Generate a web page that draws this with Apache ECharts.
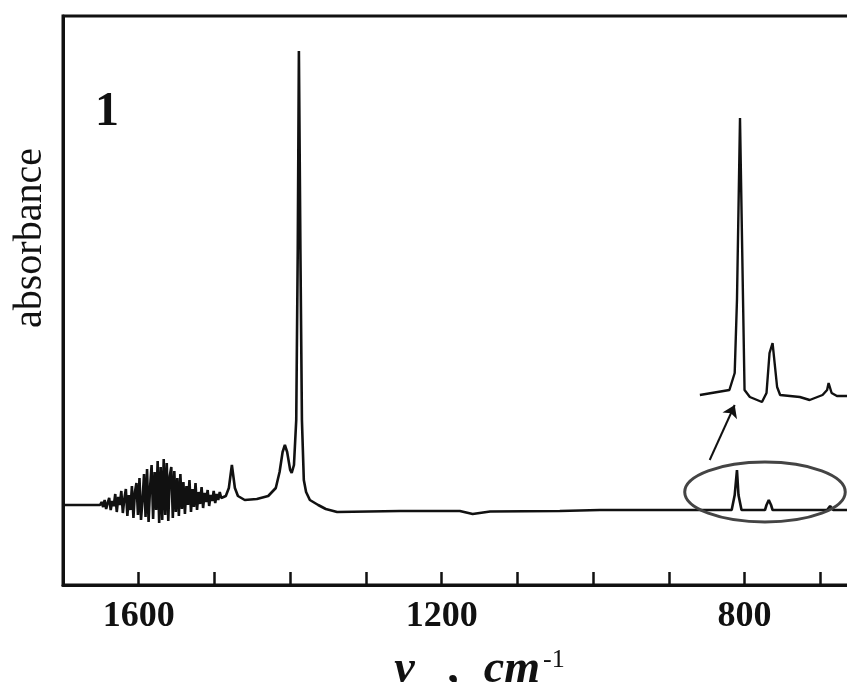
<!DOCTYPE html>
<html>
<head>
<meta charset="utf-8">
<script src="https://cdn.jsdelivr.net/npm/echarts@6/dist/echarts.min.js"></script>
<style>
  html, body { margin: 0; background: #fff; }
  #chart { width: 847px; height: 682px; }
</style>
</head>
<body>
<div id="chart"></div>
<script>
/* IR spectrum, panel 1 — wavenumber (cm-1, decreasing) vs absorbance (a.u.) */

// main trace: flat start, noisy water region, bands at ~1477 / 1407 / 1388 cm-1, small bands near 810 / 768 / 687
const mainNu = [1700, 1658,
  1651, 1649, 1647, 1645, 1643, 1641, 1639, 1637, 1635, 1633, 1631, 1629, 1627, 1625, 1623, 1621, 1619, 1617,
  1615, 1613, 1611, 1609, 1607, 1605, 1603, 1601, 1599, 1597, 1595, 1593, 1591, 1589, 1587, 1585, 1583, 1581,
  1579, 1577, 1575, 1573, 1571, 1569, 1567, 1565, 1563, 1561, 1559, 1557, 1555, 1553, 1551, 1549, 1547, 1545,
  1543, 1541, 1539, 1537, 1535, 1533, 1531, 1529, 1527, 1525, 1523, 1521, 1519, 1517, 1515, 1513, 1511, 1509,
  1507, 1505, 1503, 1501, 1499, 1497, 1495, 1493, 1491, 1489,
  1485, 1481, 1477, 1473, 1469, 1460,
  1444, 1429, 1419, 1414, 1410, 1407, 1404, 1400, 1398, 1395, 1392, 1390, 1388.5, 1386.5, 1384.5, 1382, 1379,
  1374, 1363, 1353, 1338, 1255, 1176, 1159, 1136, 1044, 991, 859, 817, 813, 810, 808, 804, 773, 771, 768, 765,
  763, 691, 687, 683, 650];
const mainAbs = [0.160, 0.160,
  0.160, 0.166, 0.156, 0.170, 0.152, 0.164, 0.174, 0.150, 0.168, 0.158, 0.182, 0.146, 0.176, 0.160, 0.188, 0.144,
  0.172, 0.192, 0.138, 0.180, 0.150, 0.198, 0.134, 0.186, 0.204, 0.140, 0.214, 0.130, 0.170, 0.222, 0.136, 0.232,
  0.126, 0.196, 0.240, 0.132, 0.226, 0.150, 0.248, 0.124, 0.236, 0.130, 0.252, 0.140, 0.244, 0.128, 0.218, 0.236,
  0.134, 0.228, 0.146, 0.214, 0.138, 0.222, 0.152, 0.206, 0.142, 0.198, 0.160, 0.210, 0.146, 0.192, 0.156, 0.204,
  0.150, 0.186, 0.162, 0.196, 0.154, 0.184, 0.166, 0.190, 0.158, 0.180, 0.168, 0.188, 0.164, 0.182, 0.170, 0.186,
  0.174, 0.178,
  0.178, 0.194, 0.240, 0.194, 0.178, 0.170,
  0.172, 0.178, 0.194, 0.226, 0.266, 0.280, 0.266, 0.230, 0.224, 0.240, 0.330, 0.670, 1.068, 0.670, 0.330, 0.210,
  0.186, 0.170, 0.160, 0.152, 0.146, 0.148, 0.148, 0.142, 0.147, 0.148, 0.150, 0.150, 0.150, 0.180, 0.230, 0.180,
  0.150, 0.150, 0.160, 0.170, 0.160, 0.150, 0.150, 0.158, 0.150, 0.150];

// magnified inset of the 860–650 region (offset upward)
const insetNu = [859, 820, 813, 810, 806, 802, 800, 793, 777, 771, 767, 763, 757, 753, 727, 714, 697, 691, 689,
  685, 678, 650];
const insetAbs = [0.380, 0.390, 0.424, 0.570, 0.934, 0.570, 0.390, 0.376, 0.366, 0.384, 0.464, 0.484, 0.396,
  0.380, 0.376, 0.370, 0.380, 0.390, 0.404, 0.384, 0.378, 0.378];

const tickLabels = [1600, 1200, 800];

// annotations (data coordinates)
const ellipseCenter = [773, 0.186];
const ellipseRadius = [106, 0.06];      // [cm-1, a.u.]
const arrowFrom = [846, 0.25];
const arrowTo = [813, 0.36];

const INK = '#111';
const SERIF = '"Liberation Serif", "DejaVu Serif", serif';

const zip = (xs, ys) => xs.map((x, i) => [x, ys[i]]);

const chart = echarts.init(document.getElementById('chart'), null, { renderer: 'canvas' });

chart.setOption({
  animation: false,
  backgroundColor: '#fff',
  title: {
    text: '1', left: 90, top: 84,
    textStyle: { fontFamily: SERIF, fontWeight: 'bold', fontSize: 48, color: INK }
  },
  grid: {
    left: 63, top: 16, right: -49, bottom: 97,
    outerBoundsMode: 'none', containLabel: false,
    show: true, borderColor: INK, borderWidth: 3
  },
  xAxis: {
    type: 'value', inverse: true, min: 600, max: 1700, interval: 100,
    axisLine: { lineStyle: { color: INK, width: 3 } },
    axisTick: { inside: true, length: 13, lineStyle: { color: INK, width: 2.5 } },
    splitLine: { show: false },
    axisLabel: {
      margin: 14, color: INK, fontFamily: SERIF, fontWeight: 'bold', fontSize: 36,
      formatter: (v) => (tickLabels.includes(v) ? String(v) : '')
    },
    name: '{a|ν   ,  cm}{b|-1}', nameLocation: 'middle', nameGap: 62,
    nameTextStyle: {
      rich: {
        a: { fontFamily: SERIF, fontStyle: 'italic', fontWeight: 'bold', fontSize: 46, color: INK },
        b: { fontFamily: SERIF, fontSize: 26, color: INK, verticalAlign: 'top', padding: [0, 0, 20, 3] }
      }
    }
  },
  yAxis: {
    type: 'value', min: 0, max: 1.138,
    axisLine: { show: true, lineStyle: { color: INK, width: 3 } },
    axisTick: { show: false }, axisLabel: { show: false }, splitLine: { show: false }
  },
  series: [
    {
      type: 'line', data: zip(mainNu, mainAbs), showSymbol: false,
      lineStyle: { color: INK, width: 2.6 }
    },
    {
      type: 'line', data: zip(insetNu, insetAbs), showSymbol: false,
      lineStyle: { color: INK, width: 2.4 },
      markLine: {
        silent: true, symbol: ['none', 'arrow'], symbolSize: 12,
        label: { show: false },
        lineStyle: { color: INK, width: 2, type: 'solid' },
        data: [[{ coord: arrowFrom }, { coord: arrowTo }]]
      }
    }
  ]
});

/* 椭圆和纵轴标题放在 graphic 里，位置从数据坐标换算 */
function placeAnnotations() {
  const c = chart.convertToPixel({ gridIndex: 0 }, ellipseCenter);
  const e = chart.convertToPixel({ gridIndex: 0 },
    [ellipseCenter[0] - ellipseRadius[0], ellipseCenter[1] + ellipseRadius[1]]);
  chart.setOption({
    graphic: [
      {
        type: 'ellipse', z: 10,
        shape: { cx: c[0], cy: c[1], rx: Math.abs(e[0] - c[0]), ry: Math.abs(c[1] - e[1]) },
        style: { fill: 'none', stroke: '#444', lineWidth: 3 }
      },
      {
        type: 'text', x: 30, y: 238, rotation: Math.PI / 2, z: 10,
        style: {
          text: 'absorbance', fontFamily: SERIF, fontSize: 40, fill: INK,
          align: 'center', verticalAlign: 'middle'
        }
      }
    ]
  });
}
placeAnnotations();
</script>
</body>
</html>
